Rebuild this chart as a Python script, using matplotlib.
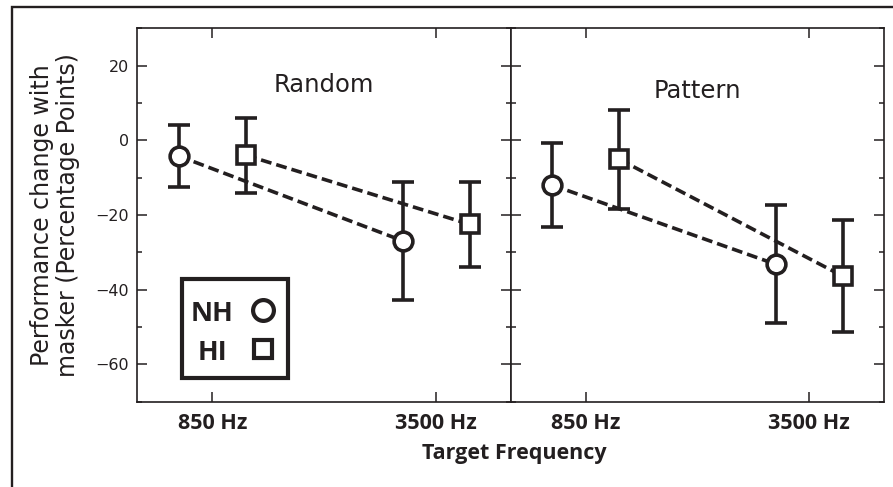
import matplotlib
matplotlib.use('Agg')
import matplotlib.pyplot as plt
import matplotlib.patches as mpatches
from matplotlib.ticker import MultipleLocator
import numpy as np

# category labels and group offsets
freqs = ['850 Hz', '3500 Hz']
offsets = {'NH': -0.15, 'HI': 0.15}

# mean performance change and error (percentage points)
random_nh = [-4.2, -26.9]
random_nh_err = [8.4, 15.8]
random_hi = [-4.0, -22.5]
random_hi_err = [10.1, 11.3]

pattern_nh = [-12.0, -33.2]
pattern_nh_err = [11.2, 15.8]
pattern_hi = [-5.1, -36.4]
pattern_hi_err = [13.2, 15.0]

ink = '#231f20'
bold_font = ['Open Sans', 'DejaVu Sans']

fig = plt.figure(figsize=(8.93, 4.87), dpi=100)
ax_l = fig.add_axes([0.1538, 0.1752, 0.4185, 0.7667])
ax_r = fig.add_axes([0.5722, 0.1752, 0.4180, 0.7667], sharey=ax_l)

panels = [
    (ax_l, 'Random', 13.0, random_nh, random_nh_err, random_hi, random_hi_err),
    (ax_r, 'Pattern', 11.3, pattern_nh, pattern_nh_err, pattern_hi, pattern_hi_err),
]

x = np.arange(len(freqs))

for ax, title, title_y, nh, nh_err, hi, hi_err in panels:
    for vals, errs, key, marker, ms in [(nh, nh_err, 'NH', 'o', 13.5),
                                        (hi, hi_err, 'HI', 's', 13.0)]:
        xs = x + offsets[key]
        # dashed connector between the two frequencies
        ax.plot(xs, vals, color=ink, lw=2.6, dashes=(3.0, 1.4), zorder=2)
        ax.errorbar(xs, vals, yerr=errs, fmt='none', ecolor=ink,
                    elinewidth=2.6, capsize=8, capthick=2.6, zorder=3)
        ax.plot(xs, vals, linestyle='none', marker=marker, ms=ms,
                mfc='white', mec=ink, mew=2.6, zorder=4)

    ax.text(0.5, title_y, title, ha='center', va='baseline',
            fontsize=17.5, color=ink, family='DejaVu Sans')

    ax.set_xlim(-0.335, 1.335)
    ax.set_ylim(-70, 30)
    ax.set_xticks(x)
    ax.set_xticklabels(freqs, fontsize=15.5, fontweight='bold',
                       family=bold_font, color=ink)
    ax.yaxis.set_major_locator(MultipleLocator(20))
    ax.yaxis.set_minor_locator(MultipleLocator(10))
    ax.tick_params(axis='both', which='both', direction='in',
                   top=True, right=True, left=True, bottom=True,
                   color=ink, width=1.1)
    ax.tick_params(axis='both', which='major', length=7)
    ax.tick_params(axis='both', which='minor', length=3.6)
    ax.tick_params(axis='x', pad=8)
    ax.tick_params(axis='y', pad=6, labelsize=11.5, labelcolor=ink)
    for sp in ax.spines.values():
        sp.set_linewidth(1.2)
        sp.set_color(ink)

ax_r.tick_params(axis='y', labelleft=False)
for lab in ax_l.get_yticklabels():
    lab.set_family('DejaVu Sans')

# y axis title and shared x axis title
fig.text(0.0616, 0.5585, 'Performance change with\nmasker (Percentage Points)',
         rotation=90, ha='center', va='center', fontsize=17,
         linespacing=1.1, color=ink, family='DejaVu Sans')
fig.text(0.5756, 0.0678, 'Target Frequency', ha='center', va='center',
         fontsize=15.5, fontweight='bold', family=bold_font, color=ink)

# hand-built key in the lower left of the first panel
box = mpatches.Rectangle((0.1204, 0.0643), 0.2821, 0.2635, transform=ax_l.transAxes,
                         fill=False, lw=3, edgecolor=ink, zorder=5)
ax_l.add_patch(box)
ax_l.text(0.199, 0.216, 'NH', transform=ax_l.transAxes, ha='center', va='baseline',
          fontsize=19.5, fontweight='bold', family=bold_font, color=ink)
ax_l.text(0.201, 0.1117, 'HI', transform=ax_l.transAxes, ha='center', va='baseline',
          fontsize=19.5, fontweight='bold', family=bold_font, color=ink)
ax_l.plot([0.3356], [0.2456], transform=ax_l.transAxes, marker='o', ms=15,
          mfc='white', mec=ink, mew=3, linestyle='none', zorder=6)
ax_l.plot([0.3356], [0.141], transform=ax_l.transAxes, marker='s', ms=13,
          mfc='white', mec=ink, mew=3, linestyle='none', zorder=6)

# outer frame around the whole figure
frame = mpatches.Rectangle((12 / 893, -0.1), 1.2, 1 - 7 / 487 + 0.1,
                           transform=fig.transFigure, fill=False,
                           lw=1.7, edgecolor=ink)
fig.add_artist(frame)

fig.savefig('out.png', dpi=100)
